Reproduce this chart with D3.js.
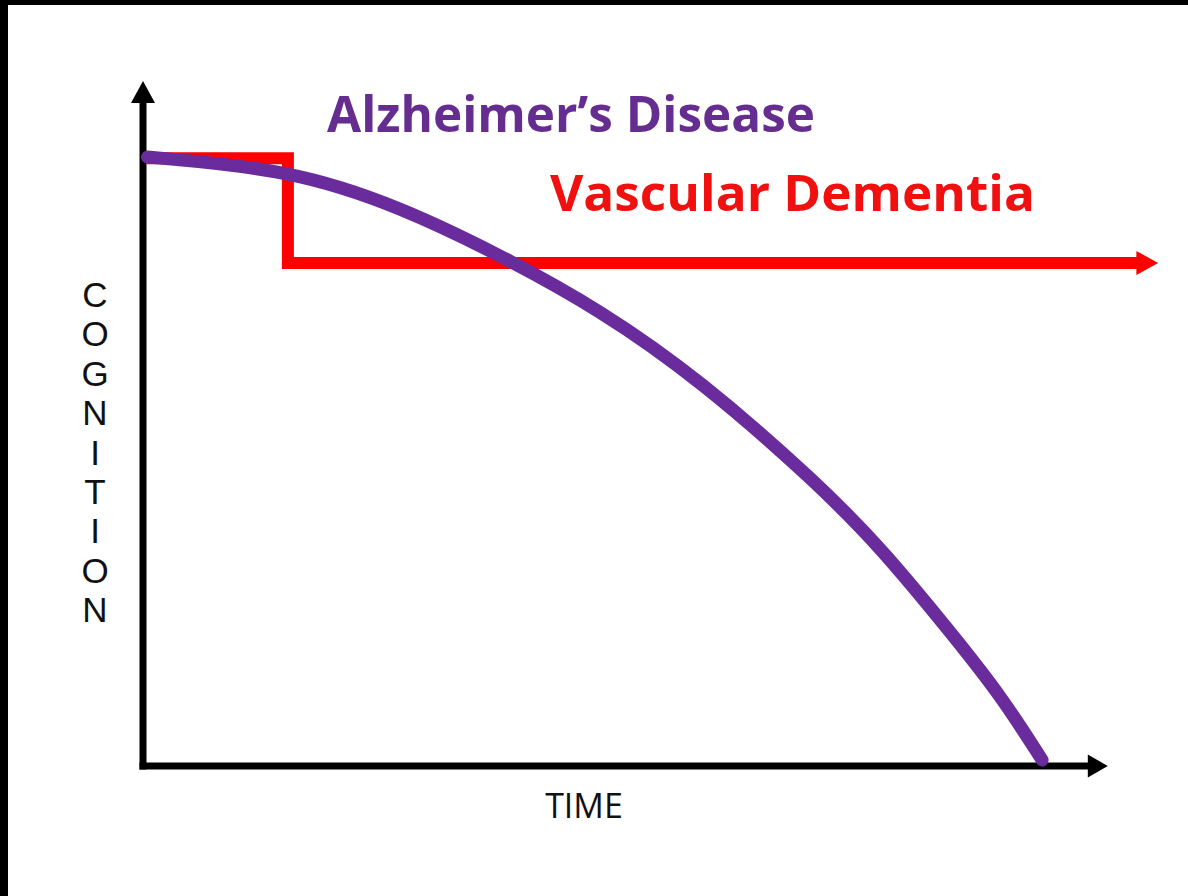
<!DOCTYPE html>
<html>
<head>
<meta charset="utf-8">
<script src="https://cdn.jsdelivr.net/npm/d3@7"></script>
<style>
  html, body { margin: 0; padding: 0; background: #fff; }
  svg { display: block; }
</style>
</head>
<body>
<div id="chart"></div>
<script>
// ---- Data ----
const alzTime      = [0.5, 16.6, 28.6, 39.7, 50.8, 61.9, 74.9, 82.2, 89.7, 95.2, 99.9];
const alzCognition = [100, 97.9, 91.8, 83.9, 74.9, 63.4, 46.5, 35.5, 22.0, 11.8, 1.0];

const vascTime      = [0.4, 16.1, 16.1, 110.6];
const vascCognition = [99.8, 99.8, 82.6, 82.6];
const vascArrowTip  = 112.8;

const xAxisEnd = 107.2;   // time units where the x-axis arrow tip lies
const yAxisEnd = 112.5;   // cognition units where the y-axis arrow tip lies

const seriesLabels = ["Alzheimer\u2019s Disease", "Vascular Dementia"];
const yAxisLabel = "COGNITION";
const xAxisLabel = "TIME";

// ---- Drawing ----
const W = 1188, H = 896;
const purple = "#6a2c9c", red = "#ff0000";

const svg = d3.select("#chart").append("svg")
  .attr("width", W).attr("height", H);

svg.append("rect").attr("width", W).attr("height", H).attr("fill", "#fff");
// black frame strips (top, left)
svg.append("rect").attr("x", 0).attr("y", 0).attr("width", W).attr("height", 5).attr("fill", "#000");
svg.append("rect").attr("x", 0).attr("y", 0).attr("width", 8).attr("height", H).attr("fill", "#000");

const x = d3.scaleLinear().domain([0, 100]).range([143, 1043]);
const y = d3.scaleLinear().domain([0, 100]).range([766, 157]);

// axes
const axisG = svg.append("g");
axisG.append("line")
  .attr("x1", x(0)).attr("x2", x(0))
  .attr("y1", y(0) + 3.5).attr("y2", y(yAxisEnd) + 18)
  .attr("stroke", "#000").attr("stroke-width", 7);
axisG.append("path")
  .attr("d", `M${x(0)},${y(yAxisEnd)} L${x(0) - 12},${y(yAxisEnd) + 22} L${x(0) + 12},${y(yAxisEnd) + 22} Z`)
  .attr("fill", "#000");
axisG.append("line")
  .attr("x1", x(0) - 3.5).attr("x2", x(xAxisEnd) - 18)
  .attr("y1", y(0)).attr("y2", y(0))
  .attr("stroke", "#000").attr("stroke-width", 7);
axisG.append("path")
  .attr("d", `M${x(xAxisEnd)},${y(0)} L${x(xAxisEnd) - 20},${y(0) - 11.5} L${x(xAxisEnd) - 20},${y(0) + 11.5} Z`)
  .attr("fill", "#000");

// Vascular dementia (step line with arrow)
const vascData = vascTime.map((t, i) => ({ t, c: vascCognition[i] }));
svg.append("path")
  .datum(vascData)
  .attr("d", d3.line().x(d => x(d.t)).y(d => y(d.c)))
  .attr("fill", "none")
  .attr("stroke", red)
  .attr("stroke-width", 12)
  .attr("stroke-linejoin", "miter")
  .attr("stroke-linecap", "butt");
const lastC = vascCognition[vascCognition.length - 1];
const baseT = vascTime[vascTime.length - 1];
svg.append("path")
  .attr("d", `M${x(vascArrowTip)},${y(lastC)} L${x(baseT) - 2},${y(lastC) - 12} L${x(baseT) - 2},${y(lastC) + 12} Z`)
  .attr("fill", red);

// Alzheimer's curve
const alzData = alzTime.map((t, i) => ({ t, c: alzCognition[i] }));
svg.append("path")
  .datum(alzData)
  .attr("d", d3.line().x(d => x(d.t)).y(d => y(d.c)).curve(d3.curveBasis))
  .attr("fill", "none")
  .attr("stroke", purple)
  .attr("stroke-width", 13)
  .attr("stroke-linecap", "round");

// Series labels
svg.append("text")
  .attr("x", 327).attr("y", 132)
  .attr("font-family", "Open Sans, sans-serif")
  .attr("font-weight", 700)
  .attr("font-size", 50)
  .attr("textLength", 488)
  .attr("lengthAdjust", "spacingAndGlyphs")
  .attr("fill", "#662d91")
  .text(seriesLabels[0]);

svg.append("text")
  .attr("x", 550).attr("y", 211)
  .attr("font-family", "Open Sans, sans-serif")
  .attr("font-weight", 700)
  .attr("font-size", 50)
  .attr("textLength", 485)
  .attr("lengthAdjust", "spacingAndGlyphs")
  .attr("fill", "#f01010")
  .text(seriesLabels[1]);

// Y axis label: stacked letters
svg.append("g").selectAll("text")
  .data(yAxisLabel.split(""))
  .join("text")
  .attr("x", 95)
  .attr("y", (d, i) => 307 + i * 39.4)
  .attr("text-anchor", "middle")
  .attr("font-family", "Liberation Sans, Arial, sans-serif")
  .attr("font-size", 35)
  .attr("fill", "#111")
  .text(d => d);

// X axis label
svg.append("text")
  .attr("x", 584).attr("y", 818)
  .attr("text-anchor", "middle")
  .attr("font-family", "Open Sans, sans-serif")
  .attr("font-size", 34)
  .attr("fill", "#111")
  .text(xAxisLabel);
</script>
</body>
</html>
